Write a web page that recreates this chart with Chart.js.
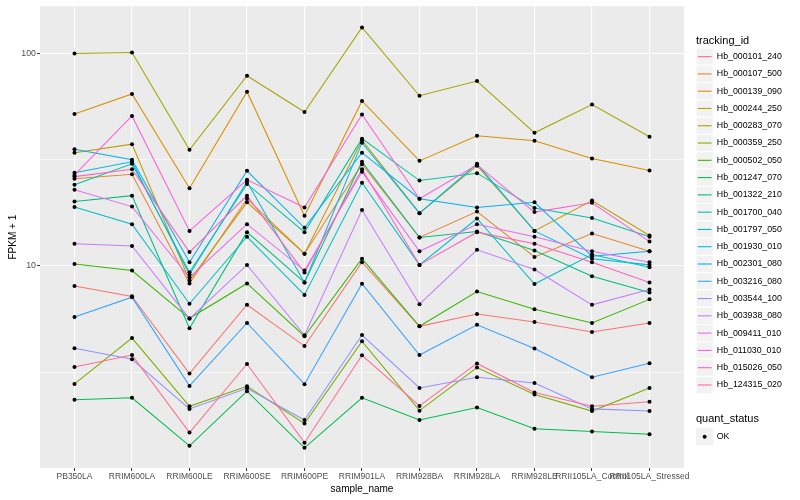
<!DOCTYPE html>
<html>
<head>
<meta charset="utf-8">
<script src="https://cdn.jsdelivr.net/npm/chart.js@4.4.1/dist/chart.umd.min.js"></script>
<style>
    html, body { margin: 0; padding: 0; background: #ffffff; }
    canvas { display: block; }
</style>
</head>
<body>
<canvas id="fpkmCanvas" width="800" height="500"></canvas>
<script>
// samples on the x axis
const sampleNames = ["PB350LA", "RRIM600LA", "RRIM600LE", "RRIM600SE", "RRIM600PE", "RRIM901LA",
    "RRIM928BA", "RRIM928LA", "RRIM928LB", "RRII105LA_Control", "RRII105LA_Stressed"];

const trackingIds = ["Hb_000101_240", "Hb_000107_500", "Hb_000139_090", "Hb_000244_250", "Hb_000283_070",
    "Hb_000359_250", "Hb_000502_050", "Hb_001247_070", "Hb_001322_210", "Hb_001700_040",
    "Hb_001797_050", "Hb_001930_010", "Hb_002301_080", "Hb_003216_080", "Hb_003544_100",
    "Hb_003938_080", "Hb_009411_010", "Hb_011030_010", "Hb_015026_050", "Hb_124315_020"];

const trackingColors = ["#F8766D", "#EA8331", "#D89000", "#C09B00", "#A3A500", "#7CAE00", "#39B600",
    "#00BB4E", "#00BF7D", "#00C1A3", "#00BFC4", "#00BAE0", "#00B0F6", "#35A2FF", "#9590FF",
    "#C77CFF", "#E76BF3", "#FA62DB", "#FF62BC", "#FF6C91"];

// FPKM + 1 per sample, one array per tracking_id
const hb_000101_240 = [8.04, 7.18, 3.11, 6.56, 4.19, 10.4, 5.19, 5.93, 5.44, 4.88, 5.38];
const hb_000107_500 = [25.7, 27.0, 8.26, 20.7, 11.4, 30.1, 13.6, 18.0, 11.0, 14.2, 11.7];
const hb_000139_090 = [51.9, 64.4, 23.2, 66.0, 17.2, 59.7, 31.2, 41.0, 38.8, 32.0, 28.1];
const hb_000244_250 = [34.1, 37.4, 8.53, 19.9, 11.4, 39.0, 17.7, 29.6, 14.6, 20.3, 13.9];
const hb_000283_070 = [100, 101, 35.2, 78.5, 53.0, 132.5, 63.2, 74.1, 42.3, 57.4, 40.5];
const hb_000359_250 = [2.78, 4.57, 2.18, 2.71, 1.81, 4.41, 2.08, 3.32, 2.48, 2.07, 2.66];
const hb_000502_050 = [10.2, 9.50, 5.66, 8.26, 4.66, 10.8, 5.19, 7.57, 6.25, 5.38, 6.95];
const hb_001247_070 = [2.34, 2.39, 1.42, 2.57, 1.39, 2.39, 1.88, 2.15, 1.71, 1.66, 1.61];
const hb_001322_210 = [20.1, 21.4, 5.08, 14.4, 8.35, 30.9, 13.6, 14.5, 11.8, 8.94, 7.49];
const hb_001700_040 = [24.1, 30.2, 9.33, 24.3, 14.4, 39.7, 25.2, 27.3, 18.7, 16.8, 13.7];
const hb_001797_050 = [18.9, 15.7, 6.63, 13.7, 7.29, 24.6, 10.1, 16.7, 8.21, 11.3, 9.85];
const hb_001930_010 = [27.4, 30.9, 9.10, 24.9, 8.35, 38.0, 17.7, 30.2, 14.6, 10.8, 10.1];
const hb_002301_080 = [35.4, 31.6, 10.4, 28.0, 15.1, 34.1, 20.7, 18.8, 19.9, 11.1, 11.7];
const hb_003216_080 = [5.74, 7.12, 2.72, 5.38, 2.77, 8.23, 3.80, 5.28, 4.08, 2.99, 3.48];
const hb_003544_100 = [4.09, 3.63, 2.12, 2.65, 1.88, 4.72, 2.66, 2.99, 2.81, 2.12, 2.07];
const hb_003938_080 = [12.7, 12.4, 5.64, 10.1, 4.71, 18.3, 6.60, 11.9, 9.61, 6.55, 7.74];
const hb_009411_010 = [22.8, 19.0, 8.81, 15.7, 9.50, 27.7, 11.7, 15.7, 13.7, 11.7, 10.4];
const hb_011030_010 = [26.8, 50.8, 14.6, 25.4, 18.8, 51.6, 20.7, 29.9, 17.9, 19.8, 13.0];
const hb_015026_050 = [26.3, 28.5, 11.6, 21.4, 9.30, 28.5, 10.1, 14.4, 12.7, 10.4, 8.35];
const hb_124315_020 = [3.34, 3.80, 1.64, 3.45, 1.47, 3.79, 2.19, 3.47, 2.53, 2.18, 2.29];

const seriesValues = [hb_000101_240, hb_000107_500, hb_000139_090, hb_000244_250, hb_000283_070,
    hb_000359_250, hb_000502_050, hb_001247_070, hb_001322_210, hb_001700_040,
    hb_001797_050, hb_001930_010, hb_002301_080, hb_003216_080, hb_003544_100,
    hb_003938_080, hb_009411_010, hb_011030_010, hb_015026_050, hb_124315_020];

// log axis breaks: labelled majors and the unlabelled minors between them
const yBreaks = [3.162, 10, 31.62, 100];
const yLabelled = [10, 100];

const quantStatus = ["OK"];

const fontFamily = "'Liberation Sans', Arial, Helvetica, sans-serif";

function isMajor(v) {
    return yLabelled.indexOf(v) !== -1;
}

// grey ggplot panel behind the grid
const panelPlugin = {
    id: 'panel',
    beforeDraw(chart) {
        const {ctx, chartArea} = chart;
        ctx.save();
        ctx.fillStyle = '#EBEBEB';
        ctx.fillRect(chartArea.left, chartArea.top, chartArea.right - chartArea.left, chartArea.bottom - chartArea.top);
        ctx.restore();
    }
};

// ggplot style legend on the right
const legendPlugin = {
    id: 'ggLegend',
    afterDraw(chart) {
        const ctx = chart.ctx;
        const left = 696;
        const keySize = 17.28;
        let top = 48;
        ctx.save();
        ctx.textBaseline = 'middle';
        ctx.textAlign = 'left';
        ctx.fillStyle = '#000000';
        ctx.font = "11px " + fontFamily;
        ctx.fillText('tracking_id', left, 40.5);

        ctx.font = "8.8px " + fontFamily;
        for (let i = 0; i < trackingIds.length; i++) {
            let y = top + i * keySize;
            ctx.fillStyle = '#F2F2F2';
            ctx.fillRect(left, y, keySize, keySize);
            ctx.strokeStyle = '#FFFFFF';
            ctx.lineWidth = 1;
            ctx.strokeRect(left, y, keySize, keySize);
            ctx.strokeStyle = trackingColors[i];
            ctx.lineWidth = 1.1;
            ctx.beginPath();
            ctx.moveTo(left + 1.7, y + keySize / 2);
            ctx.lineTo(left + keySize - 1.7, y + keySize / 2);
            ctx.stroke();
            ctx.fillStyle = '#000000';
            ctx.fillText(trackingIds[i], left + keySize + 3.5, y + keySize / 2);
        }

        ctx.font = "11px " + fontFamily;
        ctx.fillText('quant_status', left, 419);
        ctx.font = "8.8px " + fontFamily;
        for (let j = 0; j < quantStatus.length; j++) {
            let y = 428 + j * keySize;
            ctx.fillStyle = '#F2F2F2';
            ctx.fillRect(left, y, keySize, keySize);
            ctx.fillStyle = '#000000';
            ctx.beginPath();
            ctx.arc(left + keySize / 2, y + keySize / 2, 2, 0, Math.PI * 2);
            ctx.fill();
            ctx.fillText(quantStatus[j], left + keySize + 3.5, y + keySize / 2);
        }
        ctx.restore();
    }
};

let lineDatasets = [];
for (let i = 0; i < seriesValues.length; i++) {
    lineDatasets.push({
        type: 'line',
        label: trackingIds[i],
        data: seriesValues[i].map((v, k) => ({x: k, y: v})),
        borderColor: trackingColors[i],
        borderWidth: 1.05,
        pointRadius: 0,
        tension: 0,
        fill: false,
        order: 100 - i
    });
}

// black points for quant_status OK, drawn over every line
let pointData = [];
for (let i = 0; i < seriesValues.length; i++) {
    for (let k = 0; k < seriesValues[i].length; k++) {
        pointData.push({x: k, y: seriesValues[i][k]});
    }
}

const ctx = document.getElementById('fpkmCanvas').getContext('2d');
const fpkmChart = new Chart(ctx, {
    type: 'line',
    data: {
        datasets: lineDatasets.concat([{
            type: 'scatter',
            label: 'OK',
            data: pointData,
            showLine: false,
            pointRadius: 2,
            pointBackgroundColor: '#000000',
            pointBorderWidth: 0,
            order: 0
        }])
    },
    plugins: [panelPlugin, legendPlugin],
    options: {
        responsive: false,
        animation: false,
        events: [],
        devicePixelRatio: 1,
        layout: {
            padding: {left: 0, top: 5, right: 116, bottom: 0}
        },
        plugins: {
            legend: {display: false},
            tooltip: {enabled: false}
        },
        scales: {
            x: {
                type: 'linear',
                bounds: 'data',
                min: -0.6,
                max: 10.6,
                afterBuildTicks: function (scale) {
                    scale.ticks = sampleNames.map((n, i) => ({value: i}));
                },
                afterFit: function (scale) {
                    scale.height = 32;
                },
                ticks: {
                    autoSkip: false,
                    maxRotation: 0,
                    padding: 1,
                    color: '#4D4D4D',
                    font: {family: fontFamily, size: 8.5},
                    callback: function (value) {
                        return sampleNames[value];
                    }
                },
                grid: {
                    color: '#FFFFFF',
                    lineWidth: 1.1,
                    tickColor: '#333333',
                    tickLength: 3,
                    tickWidth: 1
                },
                border: {display: false},
                title: {
                    display: true,
                    text: 'sample_name',
                    color: '#000000',
                    font: {family: fontFamily, size: 10},
                    padding: {top: 0, bottom: 5}
                }
            },
            y: {
                type: 'logarithmic',
                bounds: 'data',
                min: 1.117,
                max: 166.7,
                afterBuildTicks: function (scale) {
                    scale.ticks = yBreaks.map(v => ({value: v}));
                },
                afterFit: function (scale) {
                    scale.width = 40;
                },
                ticks: {
                    padding: 1,
                    color: '#4D4D4D',
                    font: {family: fontFamily, size: 8.8},
                    callback: function (value) {
                        return isMajor(value) ? String(value) : '';
                    }
                },
                grid: {
                    color: '#FFFFFF',
                    lineWidth: function (c) { return isMajor(c.tick.value) ? 1.1 : 0.55; },
                    tickColor: function (c) { return isMajor(c.tick.value) ? '#333333' : 'rgba(0,0,0,0)'; },
                    tickLength: 3,
                    tickWidth: 1
                },
                border: {display: false},
                title: {
                    display: true,
                    text: 'FPKM + 1',
                    color: '#000000',
                    font: {family: fontFamily, size: 10},
                    padding: {top: 7, bottom: 0}
                }
            }
        }
    }
});
</script>
</body>
</html>
